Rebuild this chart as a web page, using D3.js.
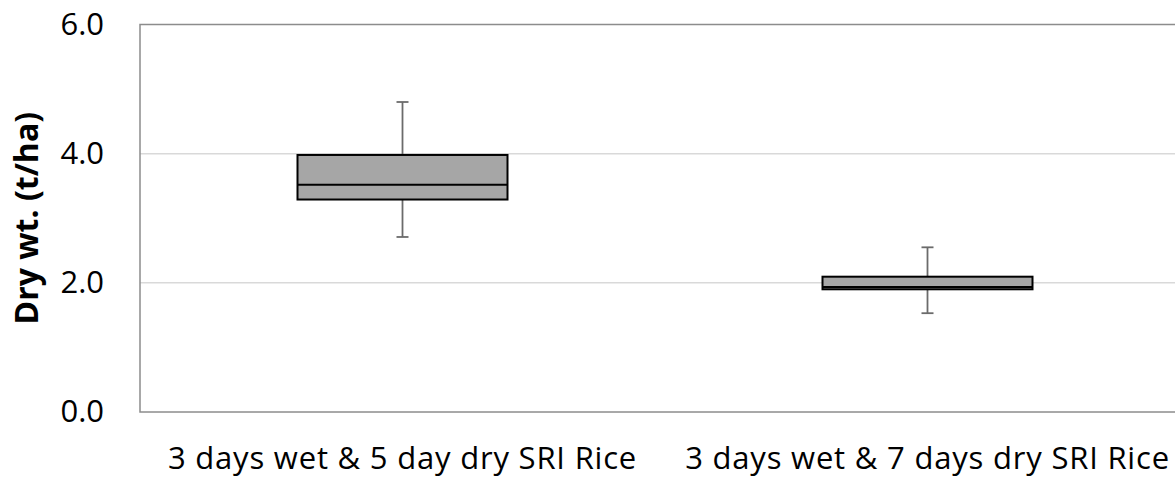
<!DOCTYPE html>
<html>
<head>
<meta charset="utf-8">
<script src="https://cdn.jsdelivr.net/npm/d3@7"></script>
<style>
  html, body { margin: 0; padding: 0; background: #ffffff; }
  svg { display: block; font-family: "Open Sans", "Noto Sans", sans-serif; }
</style>
</head>
<body>
<svg id="chart" width="1175" height="480"></svg>
<script>
// Treatments and box-plot statistics (dry weight, t/ha)
const categories = ["3 days wet & 5 day dry SRI Rice", "3 days wet & 7 days dry SRI Rice"];
const whiskerMin = [2.71, 1.53];
const quartile1  = [3.29, 1.90];
const medians    = [3.52, 1.935];
const quartile3  = [3.98, 2.095];
const whiskerMax = [4.80, 2.55];
const yTicks = [0, 2, 4, 6];
const yLabel = "Dry wt. (t/ha)";

const svg = d3.select("#chart");
const m = { left: 140, top: 24.5, bottom: 412, right: 1190 };

const x = d3.scaleBand().domain(categories).range([m.left, m.right]).paddingInner(0).paddingOuter(0);
const y = d3.scaleLinear().domain([0, 6]).range([m.bottom, m.top]);

const boxes = categories.map((c, i) => ({
  cat: c, min: whiskerMin[i], q1: quartile1[i], med: medians[i], q3: quartile3[i], max: whiskerMax[i]
}));

// Horizontal gridlines
svg.append("g").selectAll("line")
  .data(yTicks.filter(t => t > 0 && t < 6))
  .join("line")
  .attr("x1", m.left).attr("x2", m.right)
  .attr("y1", d => y(d)).attr("y2", d => y(d))
  .attr("stroke", "#d9d9d9").attr("stroke-width", 1.5);

// Plot-area frame
svg.append("rect")
  .attr("x", m.left).attr("y", y(6))
  .attr("width", m.right - m.left).attr("height", y(0) - y(6))
  .attr("fill", "none").attr("stroke", "#8c8c8c").attr("stroke-width", 1.5);

// Y axis tick labels
const yAxis = d3.axisLeft(y).tickValues(yTicks).tickFormat(d3.format(".1f")).tickSize(0).tickPadding(36);
const gy = svg.append("g").attr("transform", `translate(${m.left},0)`).call(yAxis);
gy.select(".domain").remove();
gy.selectAll("text")
  .attr("font-family", "'Open Sans', sans-serif")
  .attr("font-size", 31).attr("fill", "#000");

// Y axis title
svg.append("text")
  .attr("transform", `translate(38,${(y(0) + y(6)) / 2}) rotate(-90)`)
  .attr("text-anchor", "middle")
  .attr("font-weight", "bold").attr("font-size", 32)
  .attr("fill", "#000")
  .text(yLabel);

// X axis category labels
const xAxis = d3.axisBottom(x).tickSize(0).tickPadding(0);
const gx = svg.append("g").attr("transform", `translate(0,${m.bottom})`).call(xAxis);
gx.select(".domain").remove();
gx.selectAll("text")
  .attr("font-family", "'Open Sans', sans-serif")
  .attr("font-size", 31).attr("letter-spacing", 0.8).attr("fill", "#000")
  .attr("dy", 0).attr("y", 57);

// Box plots
const boxW = x.bandwidth() * 0.4;
const capW = 12;
const cx = d => x(d.cat) + x.bandwidth() / 2;
const g = svg.append("g").selectAll("g").data(boxes).join("g");

g.append("line")
  .attr("x1", cx).attr("x2", cx)
  .attr("y1", d => y(d.max)).attr("y2", d => y(d.q3))
  .attr("stroke", "#6b6b6b").attr("stroke-width", 1.8);
g.append("line")
  .attr("x1", cx).attr("x2", cx)
  .attr("y1", d => y(d.q1)).attr("y2", d => y(d.min))
  .attr("stroke", "#6b6b6b").attr("stroke-width", 1.8);
["max", "min"].forEach(k => {
  g.append("line")
    .attr("x1", d => cx(d) - capW / 2)
    .attr("x2", d => cx(d) + capW / 2)
    .attr("y1", d => y(d[k])).attr("y2", d => y(d[k]))
    .attr("stroke", "#6b6b6b").attr("stroke-width", 1.8);
});

g.append("rect")
  .attr("x", d => cx(d) - boxW / 2)
  .attr("width", boxW)
  .attr("y", d => y(d.q3))
  .attr("height", d => y(d.q1) - y(d.q3))
  .attr("fill", "#a6a6a6").attr("stroke", "#000").attr("stroke-width", 2);

g.append("line")
  .attr("x1", d => cx(d) - boxW / 2)
  .attr("x2", d => cx(d) + boxW / 2)
  .attr("y1", d => y(d.med)).attr("y2", d => y(d.med))
  .attr("stroke", "#000").attr("stroke-width", 2);
</script>
</body>
</html>
